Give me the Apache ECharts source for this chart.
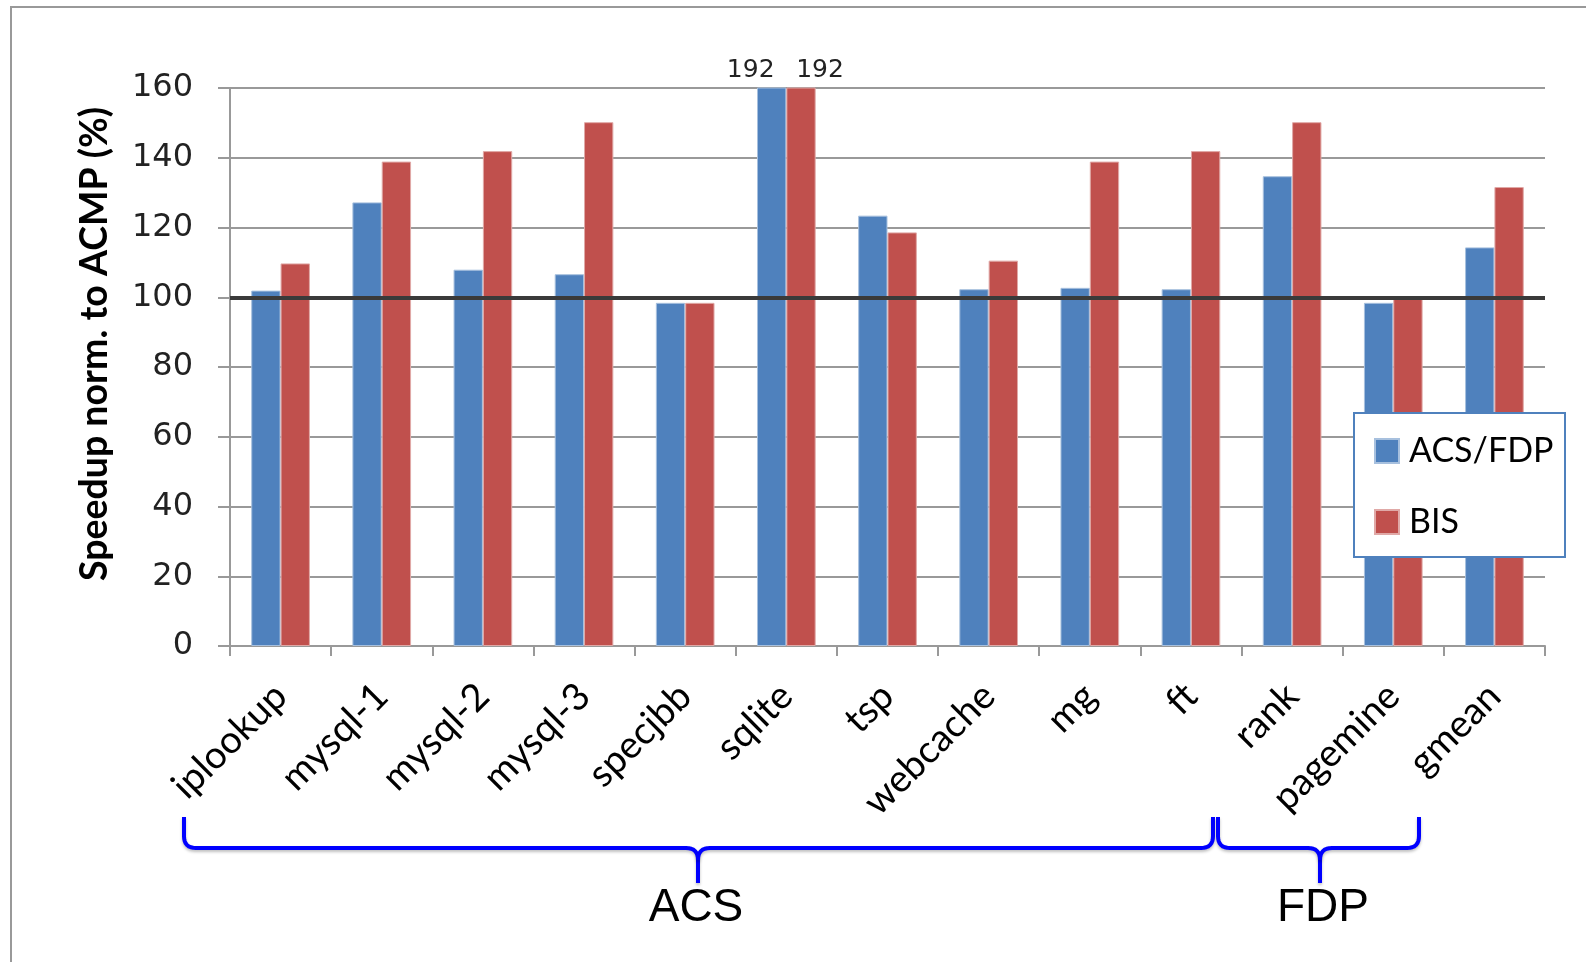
<!DOCTYPE html>
<html>
<head>
<meta charset="utf-8">
<script src="https://cdn.jsdelivr.net/npm/echarts@6/dist/echarts.min.js"></script>
<style>
html,body{margin:0;padding:0;background:#fff;}
#chart{width:1586px;height:962px;}
</style>
</head>
<body>
<div id="chart"></div>
<script>
const categories = ['iplookup','mysql-1','mysql-2','mysql-3','specjbb','sqlite','tsp','webcache','mg','ft','rank','pagemine','gmean'];
const acsFdp = [101.9, 127.2, 107.9, 106.6, 98.4, 192, 123.4, 102.3, 102.7, 102.3, 134.7, 98.4, 114.3];
const bis    = [109.7, 138.9, 141.9, 150.2, 98.4, 192, 118.6, 110.5, 138.9, 141.9, 150.2, 99.7, 131.6];
const seriesNames = ['ACS/FDP', 'BIS'];
const yTicks = [0, 20, 40, 60, 80, 100, 120, 140, 160];
const yTitle = 'Speedup norm. to ACMP (%)';
const groupLabels = ['ACS', 'FDP'];
const baseline = 100;

const AX_MAX = yTicks[yTicks.length - 1];
const labelFont = 'Lato, "Open Sans", sans-serif';

function barData(arr, offsetX) {
  return arr.map(v => {
    if (v > AX_MAX) {
      return {
        value: v,
        label: {
          show: true, position: 'top', distance: 5, offset: [offsetX, 0],
          formatter: '{c}', color: '#222', fontFamily: 'DejaVu Sans', fontSize: 25
        }
      };
    }
    return v;
  });
}

// quadratic curve sampler for brace decoration
function quad(p0, c, p1, n) {
  const pts = [];
  for (let i = 1; i <= n; i++) {
    const t = i / n;
    pts.push([
      (1-t)*(1-t)*p0[0] + 2*(1-t)*t*c[0] + t*t*p1[0],
      (1-t)*(1-t)*p0[1] + 2*(1-t)*t*c[1] + t*t*p1[1]
    ]);
  }
  return pts;
}
function brace(x0, x1, xc, yTop, yMid, yBot) {
  const r = 12;
  let left = [[x0, yTop], [x0, yMid - r]];
  left = left.concat(quad([x0, yMid - r], [x0, yMid], [x0 + r, yMid], 8));
  left.push([xc - r, yMid]);
  left = left.concat(quad([xc - r, yMid], [xc, yMid], [xc, yMid + r], 8));
  left.push([xc, yBot]);
  let right = [[x1, yTop], [x1, yMid - r]];
  right = right.concat(quad([x1, yMid - r], [x1, yMid], [x1 - r, yMid], 8));
  right.push([xc + r, yMid]);
  right = right.concat(quad([xc + r, yMid], [xc, yMid], [xc, yMid + r], 8));
  const st = {fill: 'none', stroke: '#0000ff', lineWidth: 4, lineJoin: 'round',
              shadowBlur: 3, shadowColor: 'rgba(0,0,0,0.25)', shadowOffsetY: 2};
  return [
    {type: 'polyline', z: 20, silent: true, shape: {points: left}, style: st},
    {type: 'polyline', z: 20, silent: true, shape: {points: right}, style: st}
  ];
}

const chart = echarts.init(document.getElementById('chart'), null, {renderer: 'canvas'});

chart.setOption({
  animation: false,
  backgroundColor: '#ffffff',
  grid: {left: 230, right: 41, top: 88, bottom: 316, containLabel: false},
  legend: {
    data: seriesNames,
    orient: 'vertical',
    left: 1374, top: 434,
    padding: 0,
    itemWidth: 24, itemHeight: 24, itemGap: 37,
    icon: 'rect',
    z: 30,
    textStyle: {fontFamily: labelFont, fontSize: 34, color: '#000', lineHeight: 24, padding: [0,0,0,5]}
  },
  xAxis: {
    type: 'category',
    data: categories,
    axisLine: {lineStyle: {color: '#999', width: 2}},
    axisTick: {show: true, length: 10, lineStyle: {color: '#999', width: 2}},
    axisLabel: {
      rotate: 45, interval: 0, margin: 44, verticalAlign: 'middle',
      fontFamily: labelFont, fontSize: 38, color: '#000'
    },
    splitLine: {show: false}
  },
  yAxis: {
    type: 'value',
    min: 0, max: AX_MAX, interval: 20,
    axisLine: {show: true, lineStyle: {color: '#999', width: 2}},
    axisTick: {show: true, length: 12, lineStyle: {color: '#999', width: 2}},
    axisLabel: {margin: 37, fontFamily: 'DejaVu Sans', fontSize: 32, color: '#222'},
    splitLine: {show: true, lineStyle: {color: '#999', width: 2}}
  },
  series: [
    {
      name: seriesNames[0], type: 'bar', data: barData(acsFdp, -21),
      barGap: '0%', barCategoryGap: '42%', clip: true,
      itemStyle: {color: '#4f81bd', borderColor: '#a7c0de', borderWidth: 1}
    },
    {
      name: seriesNames[1], type: 'bar', data: barData(bis, 19),
      barGap: '0%', barCategoryGap: '42%', clip: true,
      itemStyle: {color: '#c0504d', borderColor: '#e0a9a7', borderWidth: 1},
      markLine: {
        silent: true, symbol: 'none', label: {show: false},
        lineStyle: {color: '#3a3a3a', width: 4, type: 'solid'},
        data: [{yAxis: baseline}]
      }
    }
  ],
  graphic: [
    {type: 'rect', z: -10, silent: true, shape: {x: 11, y: 7, width: 1600, height: 1000},
     style: {fill: 'none', stroke: '#999', lineWidth: 2}},
    {type: 'rect', z: 20, silent: true, shape: {x: 1354, y: 413, width: 211, height: 144},
     style: {fill: '#fff', stroke: '#4f81bd', lineWidth: 2}},
    {type: 'text', z: 20, silent: true, x: 95, y: 344, rotation: Math.PI / 2,
     style: {text: yTitle, fontFamily: labelFont, fontWeight: 'bold', fontSize: 37.5, fill: '#000',
             textAlign: 'center', textVerticalAlign: 'middle'}},
    ...brace(184, 1213, 698, 817, 848, 883),
    ...brace(1218, 1419, 1320, 817, 848, 883),
    {type: 'text', z: 20, silent: true, x: 696, y: 908,
     style: {text: groupLabels[0], fontFamily: '"Liberation Sans", Arial, sans-serif', fontSize: 46, fill: '#000',
             textAlign: 'center', textVerticalAlign: 'middle'}},
    {type: 'text', z: 20, silent: true, x: 1323, y: 908,
     style: {text: groupLabels[1], fontFamily: '"Liberation Sans", Arial, sans-serif', fontSize: 46, fill: '#000',
             textAlign: 'center', textVerticalAlign: 'middle'}}
  ]
});
</script>
</body>
</html>
